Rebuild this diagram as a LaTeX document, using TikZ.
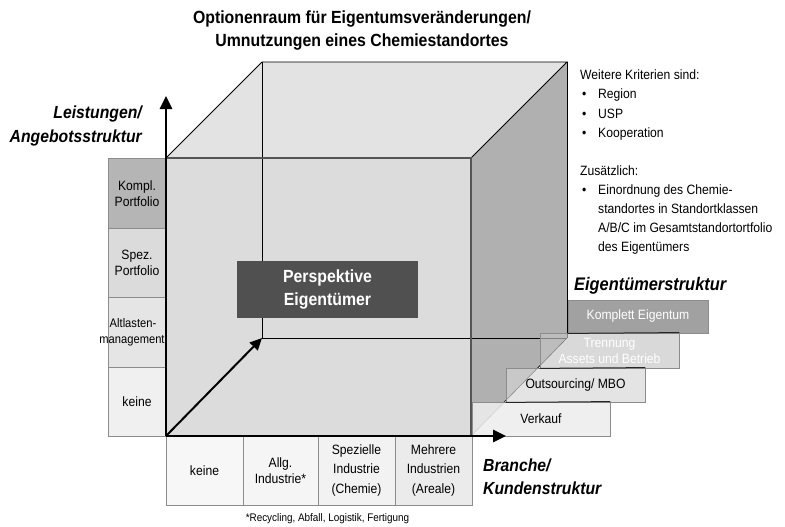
\documentclass[tikz,border=0pt]{standalone}
\usepackage{fontspec}
\setmainfont{Liberation Sans}[FakeStretch=0.9]
\usetikzlibrary{arrows.meta}

\definecolor{topface}{HTML}{E3E3E3}
\definecolor{frontface}{HTML}{DCDCDC}
\definecolor{rightface}{HTML}{B0B0B0}
\definecolor{edgegray}{HTML}{555555}
\definecolor{boxline}{HTML}{8C8C8C}
\definecolor{darkbox}{HTML}{505050}

\tikzset{
  txt/.style={font=\fontsize{13.5}{16}\selectfont, inner sep=0pt},
  heading/.style={font=\fontsize{17.6}{23}\selectfont\bfseries, inner sep=0pt},
  axislabel/.style={font=\fontsize{17.5}{23}\selectfont\bfseries\itshape, inner sep=0pt},
  cell/.style={draw=boxline, line width=0.8pt, inner sep=0pt, align=center,
    font=\fontsize{13.5}{16}\selectfont},
  stepbox/.style={draw=boxline, line width=0.8pt, inner sep=0pt, align=center,
    font=\fontsize{13.5}{16}\selectfont, minimum width=139pt},
  axisarrow/.style={line width=2.6pt, -{Triangle[length=13pt,width=12pt]}},
  edge/.style={line width=0.8pt},
}

\begin{document}
\begin{tikzpicture}[x=1pt, y=-1pt]
\useasboundingbox (0,0) rectangle (785,527);

% title
\node[heading, anchor=base] (t1) at (362,24) {Optionenraum für Eigentumsveränderungen/};
\node[heading, anchor=base] (t2) at (362,47) {Umnutzungen eines Chemiestandortes};

% cube corners: front face f*, back face b*
\coordinate (fa) at (166,158);
\coordinate (fb) at (471,158);
\coordinate (fc) at (471,436);
\coordinate (fd) at (166,436);
\coordinate (ba) at (262,62);
\coordinate (bb) at (567,62);
\coordinate (bc) at (567,338);
\coordinate (bd) at (262,338);

\fill[topface] (fa) -- (ba) -- (bb) -- (fb) -- cycle;
\fill[rightface] (fb) -- (bb) -- (bc) -- (fc) -- cycle;
\fill[frontface] (fa) rectangle (fc);

% hidden back edges
\draw[edge] (ba) -- (bd) -- (bc);
\draw[line width=2pt, -{Triangle[length=12pt,width=11pt]}] (fd) -- (bd);

% visible edges
\draw[edge] (fa) -- (ba) -- (bb) -- (fb);
\draw[edge] (bb) -- (bc);
\draw[line width=0.6pt] (bc) -- (fc);
\draw[edgegray, line width=1.2pt] (fa) rectangle (fc);

% central label
\node[fill=darkbox, text=white, heading, align=center,
      minimum width=181pt, minimum height=57pt] (persp) at (327.5,289.5)
  {Perspektive\\Eigentümer};

% ownership steps
\node[stepbox, fill=black!37, text=white, minimum width=140pt, minimum height=33pt] (s1) at (638,316.5) {Komplett Eigentum};
\node[stepbox, fill=black!23, fill opacity=0.65, text opacity=1, text=white, minimum height=35pt] (s2) at (609.5,350.5) {Trennung\\Assets und Betrieb};
\node[stepbox, fill=black!16, fill opacity=0.65, text opacity=1, minimum height=34pt] (s3) at (575.5,385) {Outsourcing/ MBO};
\node[stepbox, fill=black!7, fill opacity=0.88, text opacity=1, minimum width=138pt, minimum height=34pt] (s4) at (541,419) {Verkauf};
\draw[black!85, line width=1pt] (s1.south west) -- (s2.north east);
\draw[black!85, line width=1pt] (s2.south west) -- (s3.north east);
\draw[black!85, line width=1pt] (s3.south west) -- (s4.north east);
\node[axislabel, font=\fontsize{18.2}{23}\selectfont\bfseries\itshape, anchor=base west] (own) at (574,290) {Eigentümerstruktur};

% service axis cells
\node[cell, fill=black!29, minimum width=58pt, minimum height=69.5pt] (l4) at (137,193.5) {Kompl.\\Portfolio};
\node[cell, fill=black!14, minimum width=58pt, minimum height=69.5pt] (l3) at (137,263) {Spez.\\Portfolio};
\node[cell, fill=black!10, minimum width=58pt, minimum height=69.5pt, font=\fontsize{12.4}{16}\selectfont] (l2) at (137,332.5)
  {\makebox[0pt]{Altlasten-\hspace{8pt}}\\\makebox[0pt]{management\hspace{10pt}}};
\node[cell, fill=black!6, minimum width=58pt, minimum height=69.5pt] (l1) at (137,402) {keine};

% customer axis cells
\node[cell, fill=black!3, minimum width=77pt, minimum height=69pt] (k1) at (204.5,470.5) {keine};
\node[cell, fill=black!4, minimum width=75pt, minimum height=69pt] (k2) at (280.5,470.5) {Allg.\\Industrie*};
\node[cell, fill=black!5, minimum width=77pt, minimum height=69pt, font=\fontsize{13.5}{19.5}\selectfont] (k3) at (356.5,470.5) {Spezielle\\Industrie\\(Chemie)};
\node[cell, fill=black!8, minimum width=77pt, minimum height=69pt, font=\fontsize{13.5}{19.5}\selectfont] (k4) at (433.5,470.5) {Mehrere\\Industrien\\(Areale)};

% axes
\coordinate (ytip) at (166,96);
\coordinate (xtip) at (506,436);
\draw[axisarrow] (fd) -- (ytip);
\draw[axisarrow] (fd) -- (xtip);

% axis titles
\node[axislabel, anchor=base east] (lead1) at (142,118) {Leistungen/};
\node[axislabel, anchor=base east] (lead2) at (142,142) {Angebotsstruktur};
\node[axislabel, anchor=base west] (br1) at (483,471) {Branche/};
\node[axislabel, anchor=base west] (br2) at (483,494) {Kundenstruktur};

% footnote
\node[font=\fontsize{11}{13}\selectfont, inner sep=0pt, anchor=base] (fn) at (327.5,521) {*Recycling, Abfall, Logistik, Fertigung};

% further criteria
\node[txt, anchor=base west] (c0) at (580,80) {Weitere Kriterien sind:};
\node[txt, anchor=base west] (b1) at (582,99) {•};
\node[txt, anchor=base west] (c1) at (598,99) {Region};
\node[txt, anchor=base west] (b2) at (582,118) {•};
\node[txt, anchor=base west] (c2) at (598,118) {USP};
\node[txt, anchor=base west] (b3) at (582,137) {•};
\node[txt, anchor=base west] (c3) at (598,137) {Kooperation};
\node[txt, anchor=base west] (c4) at (580,175) {Zusätzlich:};
\node[txt, anchor=base west] (b4) at (582,194) {•};
\node[txt, anchor=base west] (c5) at (598,194) {Einordnung des Chemie-};
\node[txt, anchor=base west] (c6) at (598,213) {standortes in Standortklassen};
\node[txt, anchor=base west] (c7) at (598,232) {A/B/C im Gesamtstandortortfolio};
\node[txt, anchor=base west] (c8) at (598,251) {des Eigentümers};
\end{tikzpicture}
\end{document}
